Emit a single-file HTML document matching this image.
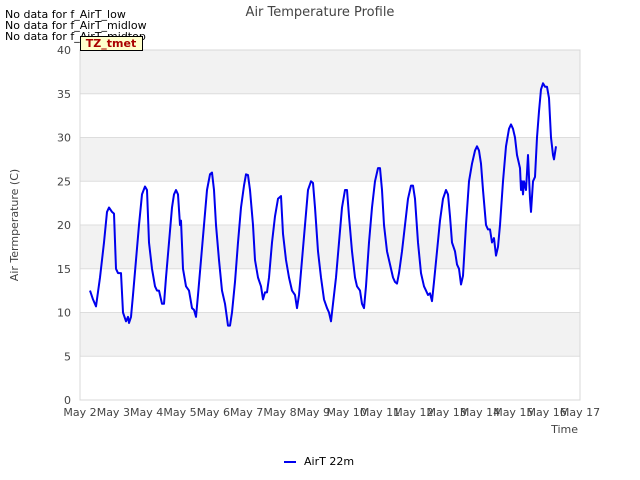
<!DOCTYPE html>
<html><head><meta charset="utf-8"><style>
body{margin:0;background:#fff;}
svg{display:block;font-family:"DejaVu Sans","Liberation Sans",sans-serif;}
</style></head><body>
<svg id="chart" width="640" height="480" viewBox="0 0 640 480">
<g id="bands"></g>
<g id="grid"></g>
<rect x="80" y="50" width="500" height="350" fill="none" stroke="#d8d8d8"/>
<g id="yticks"></g>
<g id="xticks"></g>
<path id="series" fill="none" stroke="#0000ee" stroke-width="2" stroke-linejoin="round"/>
<text x="320" y="16" text-anchor="middle" font-size="13" fill="#444">Air Temperature Profile</text>
<text x="5" y="18" font-size="11" fill="#000">No data for f_AirT_low</text>
<text x="5" y="29" font-size="11" fill="#000">No data for f_AirT_midlow</text>
<text x="5" y="40" font-size="11" fill="#000">No data for f_AirT_midtop</text>
<rect x="80.5" y="36.5" width="62" height="14" fill="#ffffcc" stroke="#000"/>
<text x="111" y="47" text-anchor="middle" font-size="11" font-weight="bold" fill="#aa0000">TZ_tmet</text>
<text transform="translate(18,225) rotate(-90)" text-anchor="middle" font-size="11" fill="#444">Air Termperature (C)</text>
<text x="578" y="433" text-anchor="end" font-size="11" fill="#444">Time</text>
<line x1="284" y1="462" x2="296" y2="462" stroke="#0000ee" stroke-width="2"/>
<text x="304" y="465" font-size="11" fill="#000">AirT 22m</text>
</svg>
<script>
const times=[2.30,2.39,2.48,2.60,2.72,2.81,2.87,2.96,3.02,3.08,3.14,3.23,3.29,3.38,3.44,3.47,3.53,3.59,3.68,3.77,3.86,3.95,4.01,4.07,4.16,4.25,4.31,4.37,4.46,4.52,4.58,4.67,4.76,4.82,4.88,4.94,5.00,5.03,5.09,5.18,5.27,5.36,5.42,5.48,5.54,5.63,5.72,5.81,5.90,5.96,6.02,6.08,6.17,6.26,6.35,6.44,6.50,6.56,6.65,6.74,6.83,6.92,6.98,7.04,7.10,7.19,7.25,7.34,7.43,7.49,7.55,7.61,7.67,7.76,7.85,7.94,8.03,8.09,8.18,8.27,8.36,8.45,8.51,8.57,8.66,8.75,8.84,8.93,8.99,9.05,9.14,9.23,9.32,9.41,9.47,9.53,9.59,9.68,9.77,9.86,9.95,10.01,10.07,10.16,10.25,10.31,10.40,10.46,10.52,10.58,10.67,10.76,10.85,10.94,11.00,11.06,11.12,11.21,11.30,11.39,11.45,11.51,11.57,11.66,11.75,11.84,11.93,11.99,12.05,12.14,12.23,12.32,12.38,12.44,12.50,12.56,12.62,12.71,12.80,12.89,12.98,13.04,13.10,13.16,13.25,13.31,13.37,13.43,13.49,13.58,13.67,13.76,13.85,13.91,13.97,14.03,14.09,14.18,14.24,14.30,14.36,14.42,14.48,14.54,14.60,14.69,14.78,14.87,14.93,14.99,15.05,15.11,15.17,15.20,15.23,15.26,15.29,15.32,15.38,15.44,15.50,15.53,15.59,15.65,15.71,15.77,15.83,15.89,15.95,16.01,16.07,16.13,16.19,16.22,16.28];
const airT=[12.5,11.5,10.7,14,18,21.5,22,21.5,21.3,15,14.5,14.5,10,9,9.5,8.8,9.5,12,16,20,23.5,24.4,24,18,15,13,12.5,12.5,11,11,14,18,22,23.5,24,23.5,20,20.5,15,13,12.5,10.5,10.3,9.5,12,16,20,24,25.8,26,24,20,16,12.5,11,8.5,8.5,10,13.5,18,22,24.5,25.8,25.7,24,20,16,14,13,11.5,12.3,12.3,14,18,21,23,23.3,19,16,14,12.5,12,10.5,12,16,20,24,25,24.8,22,17,14,11.5,10.5,10,9,11,14,18,22,24,24,21,17,14,13,12.5,11,10.5,13,18,22,25,26.5,26.5,24,20,17,15.5,14,13.5,13.3,14.5,17,20,23,24.5,24.5,23,18,14.5,13,12.5,12,12.2,11.3,13.5,17,20.5,23,24,23.5,21,18,17,15.5,15,13.2,14.2,20,25,27,28.5,29,28.5,27,24,20,19.5,19.5,18,18.5,16.5,17.5,20,25,29,31,31.5,31,30,28,27,26.5,24,25,23.5,25,24,28,23,21.5,25,25.5,30,33,35.5,36.2,35.8,35.8,34.5,30,28,27.5,29];
const yTicks=[0,5,10,15,20,25,30,35,40];
const xTickDays=[2,3,4,5,6,7,8,9,10,11,12,13,14,15,16,17];
const xTickLabels=["May 2","May 3","May 4","May 5","May 6","May 7","May 8","May 9","May 10","May 11","May 12","May 13","May 14","May 15","May 16","May 17"];
const NS="http://www.w3.org/2000/svg";
const X0=80,X1=580,Y0=400,Y1=50,DMIN=2,DMAX=17,VMIN=0,VMAX=40;
const xs=d=>X0+(d-DMIN)/(DMAX-DMIN)*(X1-X0);
const ys=v=>Y0-(v-VMIN)/(VMAX-VMIN)*(Y0-Y1);
const bands=document.getElementById('bands'),grid=document.getElementById('grid'),yt=document.getElementById('yticks'),xt=document.getElementById('xticks');
for(let i=0;i<yTicks.length-1;i++){
  if(i%2===1){
    const r=document.createElementNS(NS,'rect');
    r.setAttribute('x',X0);r.setAttribute('width',X1-X0);
    r.setAttribute('y',ys(yTicks[i+1]));r.setAttribute('height',ys(yTicks[i])-ys(yTicks[i+1]));
    r.setAttribute('fill','#f2f2f2');
    
    
    bands.appendChild(r);
  }
}
yTicks.forEach(v=>{
  const l=document.createElementNS(NS,'line');
  l.setAttribute('x1',X0);l.setAttribute('x2',X1);l.setAttribute('y1',ys(v));l.setAttribute('y2',ys(v));
  l.setAttribute('stroke','#dddddd');
  
  
  grid.appendChild(l);
  const t=document.createElementNS(NS,'text');
  t.setAttribute('x',71);t.setAttribute('y',ys(v)+4);t.setAttribute('text-anchor','end');
  t.setAttribute('font-size','11');t.setAttribute('fill','#444');t.textContent=v;
  
  
  yt.appendChild(t);
});
xTickDays.forEach((d,i)=>{
  const t=document.createElementNS(NS,'text');
  t.setAttribute('x',xs(d));t.setAttribute('y',416);t.setAttribute('text-anchor','middle');
  t.setAttribute('font-size','11');t.setAttribute('fill','#444');t.textContent=xTickLabels[i];
  
  
  xt.appendChild(t);
});
document.getElementById('series').setAttribute('d',times.map((d,i)=>(i?'L':'M')+xs(d).toFixed(1)+','+ys(airT[i]).toFixed(1)).join(''));
</script>
</body></html>
